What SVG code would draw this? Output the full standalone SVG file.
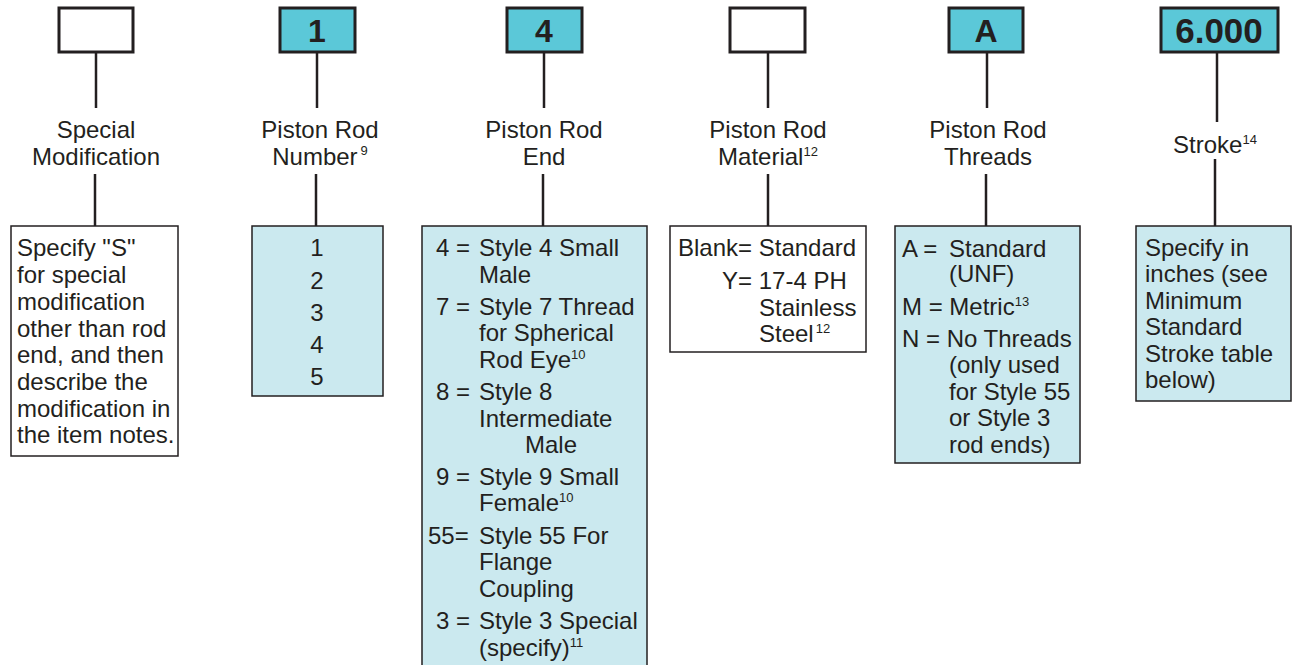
<svg xmlns="http://www.w3.org/2000/svg" width="1299" height="665" viewBox="0 0 1299 665">
<style>
text{font-family:"Liberation Sans",Arial,sans-serif;font-size:24px;fill:#231f20}
.lbl{text-anchor:middle}
.code{font-weight:bold;font-size:32px;text-anchor:middle}
.top{stroke:#231f20;stroke-width:3}
.sel{fill:#5bc8d8}
.blank{fill:#fff}
.box{stroke:#231f20;stroke-width:1.5}
.lt{fill:#cbe9ef}
.wt{fill:#fff}
.sup{font-size:13px}
.ln{stroke:#231f20;stroke-width:2.5;fill:none}
.mid{text-anchor:middle}
</style>
<rect width="1299" height="665" fill="#fff"/>
<g id="connectors">
<line class="ln" x1="96" y1="52" x2="96" y2="108"/>
<line class="ln" x1="95" y1="174" x2="95" y2="226"/>
<line class="ln" x1="317" y1="52" x2="317" y2="108"/>
<line class="ln" x1="316" y1="174" x2="316" y2="226"/>
<line class="ln" x1="544" y1="52" x2="544" y2="108"/>
<line class="ln" x1="543" y1="174" x2="543" y2="226"/>
<line class="ln" x1="768" y1="52" x2="768" y2="108"/>
<line class="ln" x1="768" y1="174" x2="768" y2="226"/>
<line class="ln" x1="987" y1="52" x2="987" y2="108"/>
<line class="ln" x1="986" y1="174" x2="986" y2="226"/>
<line class="ln" x1="1217" y1="52" x2="1217" y2="122"/>
<line class="ln" x1="1215" y1="159" x2="1215" y2="226"/>
</g>
<g id="special">
<rect class="top blank" x="59" y="8" width="74" height="44"/>
<text class="lbl" x="96" y="138">Special</text>
<text class="lbl" x="96" y="165">Modification</text>
<rect class="box wt" x="11" y="226" width="167" height="230"/>
<text x="17" y="256">Specify "S"</text>
<text x="17" y="283">for special</text>
<text x="17" y="310">modification</text>
<text x="17" y="337">other than rod</text>
<text x="17" y="363">end, and then</text>
<text x="17" y="390">describe the</text>
<text x="17" y="417">modification in</text>
<text x="17" y="443">the item notes.</text>
</g>
<g id="rodnumber">
<rect class="top sel" x="280" y="8" width="75" height="44"/>
<text class="code" x="317" y="42">1</text>
<text class="lbl" x="320" y="138">Piston Rod</text>
<text class="lbl" x="320" y="165">Number<tspan class="sup" dx="3" dy="-10">9</tspan></text>
<rect class="box lt" x="252" y="226" width="131" height="170"/>
<text class="mid" x="317" y="256">1</text>
<text class="mid" x="317" y="289">2</text>
<text class="mid" x="317" y="321">3</text>
<text class="mid" x="317" y="353">4</text>
<text class="mid" x="317" y="385">5</text>
</g>
<g id="rodend">
<rect class="top sel" x="507" y="8" width="75" height="44"/>
<text class="code" x="544" y="42">4</text>
<text class="lbl" x="544" y="138">Piston Rod</text>
<text class="lbl" x="544" y="165">End</text>
<rect class="box lt" x="422" y="226" width="225" height="460"/>
<text x="436" y="256">4 =</text><text x="479" y="256">Style 4 Small</text>
<text x="479" y="283">Male</text>
<text x="436" y="315">7 =</text><text x="479" y="315">Style 7 Thread</text>
<text x="479" y="341">for Spherical</text>
<text x="479" y="368">Rod Eye<tspan class="sup" dy="-9">10</tspan></text>
<text x="436" y="400">8 =</text><text x="479" y="400">Style 8</text>
<text x="479" y="427">Intermediate</text>
<text x="525" y="453">Male</text>
<text x="436" y="485">9 =</text><text x="479" y="485">Style 9 Small</text>
<text x="479" y="511">Female<tspan class="sup" dy="-9">10</tspan></text>
<text x="428" y="544">55=</text><text x="479" y="544">Style 55 For</text>
<text x="479" y="570">Flange</text>
<text x="479" y="597">Coupling</text>
<text x="436" y="629">3 =</text><text x="479" y="629">Style 3 Special</text>
<text x="479" y="656">(specify)<tspan class="sup" dy="-9">11</tspan></text>
</g>
<g id="material">
<rect class="top blank" x="730" y="8" width="75" height="44"/>
<text class="lbl" x="768" y="138">Piston Rod</text>
<text class="lbl" x="768" y="165">Material<tspan class="sup" dy="-9">12</tspan></text>
<rect class="box wt" x="670" y="226" width="196" height="126"/>
<text x="678" y="256">Blank= Standard</text>
<text x="722" y="289">Y= 17-4 PH</text>
<text x="759" y="316">Stainless</text>
<text x="759" y="342">Steel<tspan class="sup" dx="2" dy="-9">12</tspan></text>
</g>
<g id="threads">
<rect class="top sel" x="949" y="8" width="74" height="44"/>
<text class="code" x="986" y="42">A</text>
<text class="lbl" x="988" y="138">Piston Rod</text>
<text class="lbl" x="988" y="165">Threads</text>
<rect class="box lt" x="895" y="226" width="185" height="237"/>
<text x="902" y="257">A =</text><text x="949" y="257">Standard</text>
<text x="949" y="282">(UNF)</text>
<text x="902" y="315">M = Metric<tspan class="sup" dy="-9">13</tspan></text>
<text x="902" y="347">N = No Threads</text>
<text x="949" y="373">(only used</text>
<text x="949" y="400">for Style 55</text>
<text x="949" y="426">or Style 3</text>
<text x="949" y="453">rod ends)</text>
</g>
<g id="stroke">
<rect class="top sel" x="1161" y="8" width="117" height="44"/>
<text class="code" x="1219" y="43" style="font-size:35px">6.000</text>
<text class="lbl" x="1215" y="153">Stroke<tspan class="sup" dy="-9">14</tspan></text>
<rect class="box lt" x="1136" y="226" width="155" height="175"/>
<text x="1145" y="256">Specify in</text>
<text x="1145" y="282">inches (see</text>
<text x="1145" y="309">Minimum</text>
<text x="1145" y="335">Standard</text>
<text x="1145" y="362">Stroke table</text>
<text x="1145" y="388">below)</text>
</g>
</svg>
